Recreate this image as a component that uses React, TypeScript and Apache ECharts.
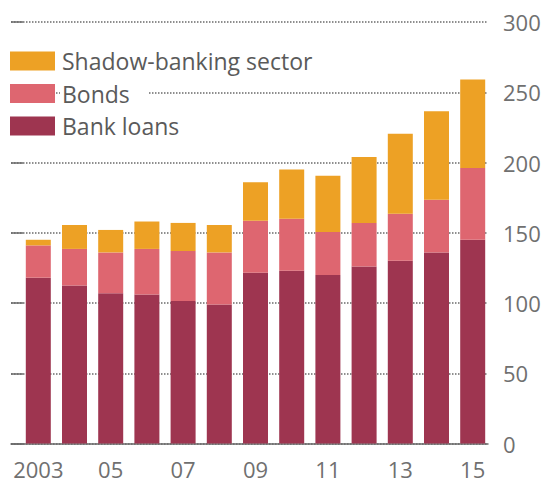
import React, { useEffect, useRef } from "react";
import * as echarts from "echarts";

const years = ["2003", "2004", "2005", "2006", "2007", "2008", "2009", "2010", "2011", "2012", "2013", "2014", "2015"];
const bankLoans = [118, 112.5, 107, 106, 101.5, 99, 121.5, 123, 120, 126, 130, 136, 145];
const bonds = [23, 26, 29, 32.5, 35.5, 37, 37, 37, 30.5, 31, 33.5, 37.5, 51];
const shadowBanking = [4, 17, 16, 19.5, 20, 19.5, 27.5, 35, 40, 47, 57, 63, 63];
const xTickLabels = ["2003", "", "05", "", "07", "", "09", "", "11", "", "13", "", "15"];
const seriesNames = ["Bank loans", "Bonds", "Shadow-banking sector"];
const colors = ["#9e3550", "#de6670", "#eda125"];

const FONT = "'Open Sans', sans-serif";

export default function App() {
  const ref = useRef<HTMLDivElement>(null);
  useEffect(() => {
    document.body.style.margin = "0";
    if (!ref.current) return;
    const chart = echarts.init(ref.current, undefined, { renderer: "svg" });
    const seriesData = [bankLoans, bonds, shadowBanking];
    chart.setOption({
      animation: false,
      backgroundColor: "#ffffff",
      textStyle: { fontFamily: FONT },
      grid: [
        { left: 11, right: 58, top: 22, bottom: 40.5, containLabel: false, outerBoundsMode: "none" },
        { left: 20.2, right: 55.2, top: 22, bottom: 40.5, containLabel: false, outerBoundsMode: "none" },
      ],
      legend: {
        data: [seriesNames[2], seriesNames[1], seriesNames[0]],
        orient: "vertical",
        left: 10,
        top: 49.5,
        padding: 0,
        itemWidth: 45,
        itemHeight: 19,
        itemGap: 9.5,
        icon: "rect",
        z: 10,
        textStyle: {
          fontSize: 23,
          color: "#5a5a5a",
          fontFamily: FONT,
          backgroundColor: "#ffffff",
          padding: [0, 19, 0, 2],
        },
      },
      xAxis: [
        {
          type: "value",
          gridIndex: 0,
          min: 0,
          max: 1,
          axisLine: { show: true, lineStyle: { color: "#6a6a6a", width: 1.5 } },
          axisTick: { show: false },
          axisLabel: { show: false },
          splitLine: { show: false },
        },
        {
          type: "category",
          gridIndex: 1,
          data: years,
          axisLine: { show: false },
          axisTick: { show: false },
          splitLine: { show: false },
          axisLabel: {
            interval: 0,
            formatter: (_v: string, i: number) => xTickLabels[i],
            fontSize: 22,
            color: "#707070",
            fontFamily: FONT,
            margin: 14,
          },
        },
      ],
      yAxis: [
        {
          type: "value",
          gridIndex: 0,
          position: "right",
          min: 0,
          max: 300,
          interval: 50,
          axisLine: { show: false },
          axisTick: { show: true, length: 12, lineStyle: { color: "#6a6a6a", width: 1.5 } },
          axisLabel: { fontSize: 22, color: "#707070", fontFamily: FONT, margin: 15 },
          splitLine: { show: true, lineStyle: { color: "#6a6a6a", width: 1.5, type: [1.5, 1.5] } },
        },
        {
          type: "value",
          gridIndex: 1,
          min: 0,
          max: 300,
          interval: 50,
          show: false,
          splitLine: { show: false },
        },
      ],
      series: seriesData.map((arr, i) => ({
        name: seriesNames[i],
        type: "bar",
        xAxisIndex: 1,
        yAxisIndex: 1,
        stack: "total",
        barWidth: 25,
        itemStyle: { color: colors[i] },
        data: arr,
      })),
    });
    return () => chart.dispose();
  }, []);
  return <div ref={ref} style={{ width: 546, height: 484 }} />;
}
